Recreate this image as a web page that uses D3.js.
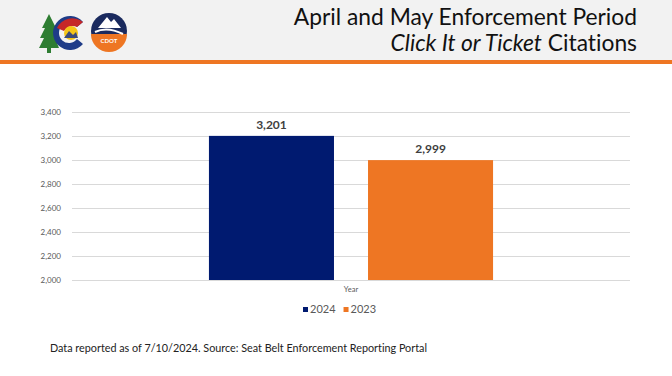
<!DOCTYPE html>
<html lang="en">
<head>
    <meta charset="UTF-8">
    <title>Click It or Ticket Citations</title>
    <script src="https://d3js.org/d3.v7.min.js"></script>
    <style>
        body { margin: 0; background: #fff; }
        svg { display: block; }
        text { font-variant-ligatures: none; }
    </style>
</head>
<body>
<div id="chart"></div>
<script>
// chart data
var categories = ["Year"];
var seriesNames = ["2024", "2023"];
var seriesValues = [3201, 2999];
var seriesColors = ["#001A70", "#EE7623"];
var yTicks = [2000, 2200, 2400, 2600, 2800, 3000, 3200, 3400];

var width = 672, height = 376;
var svg = d3.select("#chart").append("svg")
            .attr("width", width)
            .attr("height", height);

// header band
svg.append("rect").attr("x", 0).attr("y", 0).attr("width", width).attr("height", 60).style("fill", "#f2f2f2");
svg.append("rect").attr("x", 0).attr("y", 60).attr("width", width).attr("height", 4).style("fill", "#EE7623");

// logos (rough)
var logo = svg.append("g").attr("transform", "translate(11,-2)");
logo.append("path").attr("d", "M38,16 L31,30 L34,30 L29,40 L33,40 L28,50 L36,50 L36,55 L40,55 L40,50 L48,50 L44,40 L47,40 L43,30 L45,30 Z").style("fill", "#2e7d32");
logo.append("path").attr("d", "M72,24 A17,17 0 1 0 72,46 L66,41 A10,10 0 1 1 66,29 Z").style("fill", "#1f3c88");
logo.append("path").attr("d", "M72,24 A17,17 0 0 0 46,30 L53,33 A10,10 0 0 1 66,29 Z").style("fill", "#c62828");
logo.append("circle").attr("cx", 60).attr("cy", 35).attr("r", 7).style("fill", "#f5c518");
logo.append("path").attr("d", "M53,40 L58,33 L62,37 L65,34 L67,40 Z").style("fill", "#3b4a7a");
logo.append("circle").attr("cx", 98).attr("cy", 33).attr("r", 18).style("fill", "#1a2a5e");
logo.append("path").attr("d", "M80,36 A18,18 0 0 0 116,36 Z").style("fill", "#EE7623");
logo.append("path").attr("d", "M87,30 L96,19 L100,24 L103,21 L110,30 Z").style("fill", "#ffffff");
logo.append("path").attr("d", "M84,34 Q96,28 112,36").style("fill", "none").style("stroke", "#ffffff").style("stroke-width", 2);
logo.append("text").attr("x", 98).attr("y", 45).attr("text-anchor", "middle")
    .style("font-family", "Lato, sans-serif").style("font-size", "6px").style("font-weight", "bold")
    .style("fill", "#ffffff").text("CDOT");

// title
var title = svg.append("text").attr("text-anchor", "end")
    .style("font-family", "Lato, 'Open Sans', sans-serif").style("font-size", "22.8px").style("fill", "#111");
title.append("tspan").attr("x", 637).attr("y", 25).text("April and May Enforcement Period");
var t2 = title.append("tspan").attr("x", 637).attr("y", 51);
t2.append("tspan").style("font-style", "italic").text("Click It or Ticket");
t2.append("tspan").text(" Citations");

// scales
var plotLeft = 72, plotRight = 630, plotTop = 112, plotBottom = 280;
var y = d3.scaleLinear().domain([2000, 3400]).range([plotBottom, plotTop]);
var x0 = d3.scaleBand().domain(categories).range([plotLeft, plotRight]).paddingInner(0).paddingOuter(0.482);
var x1 = d3.scaleBand().domain(seriesNames).range([0, x0.bandwidth()]).paddingInner(0.214).paddingOuter(0);

// gridlines
svg.append("g").selectAll("line").data(yTicks).enter().append("line")
    .attr("x1", plotLeft).attr("x2", plotRight)
    .attr("y1", function(d) { return Math.round(y(d)) + 0.5; })
    .attr("y2", function(d) { return Math.round(y(d)) + 0.5; })
    .style("stroke", "#d9d9d9").style("stroke-width", 1);

// y axis
var yAxis = svg.append("g").attr("transform", "translate(" + (plotLeft - 8) + ",0)")
    .call(d3.axisLeft(y).tickValues(yTicks).tickSize(0).tickFormat(d3.format(",")));
yAxis.select(".domain").remove();
yAxis.selectAll("text").style("font-family", "Lato, sans-serif").style("font-size", "8px").style("fill", "#595959");

// bars
var group = svg.append("g").selectAll("g").data(categories).enter().append("g")
    .attr("transform", function(d) { return "translate(" + x0(d) + ",0)"; });
group.selectAll("rect").data(seriesNames).enter().append("rect")
    .attr("x", function(d) { return x1(d); })
    .attr("width", x1.bandwidth())
    .attr("y", function(d, i) { return y(seriesValues[i]); })
    .attr("height", function(d, i) { return plotBottom - y(seriesValues[i]); })
    .style("fill", function(d, i) { return seriesColors[i]; });
group.selectAll("text.val").data(seriesNames).enter().append("text")
    .attr("class", "val")
    .attr("x", function(d) { return x1(d) + x1.bandwidth() / 2; })
    .attr("y", function(d, i) { return y(seriesValues[i]) - 7; })
    .attr("text-anchor", "middle")
    .style("font-family", "Lato, sans-serif").style("font-size", "12px").style("font-weight", "bold")
    .style("fill", "#404040")
    .text(function(d, i) { return d3.format(",")(seriesValues[i]); });

// category label
svg.append("g").attr("transform", "translate(0," + plotBottom + ")")
    .call(d3.axisBottom(x0).tickSize(0))
    .call(function(g) { g.select(".domain").remove(); })
    .selectAll("text").attr("dy", "9")
    .style("font-family", "Lato, sans-serif").style("font-size", "7.5px").style("fill", "#595959");

// legend
var legend = svg.append("g").attr("transform", "translate(303,313)");
var lx = 0;
seriesNames.forEach(function(name, i) {
    legend.append("rect").attr("x", lx).attr("y", -6).attr("width", 5).attr("height", 5).style("fill", seriesColors[i]);
    var t = legend.append("text").attr("x", lx + 7).attr("y", 0)
        .style("font-family", "Lato, sans-serif").style("font-size", "11px").style("fill", "#595959").text(name);
    lx += 7 + t.node().getComputedTextLength() + 8;
});

// footer
svg.append("text").attr("x", 50).attr("y", 352)
    .style("font-family", "Lato, sans-serif").style("font-size", "10.8px").style("fill", "#222")
    .text("Data reported as of 7/10/2024. Source: Seat Belt Enforcement Reporting Portal");
</script>
</body>
</html>
